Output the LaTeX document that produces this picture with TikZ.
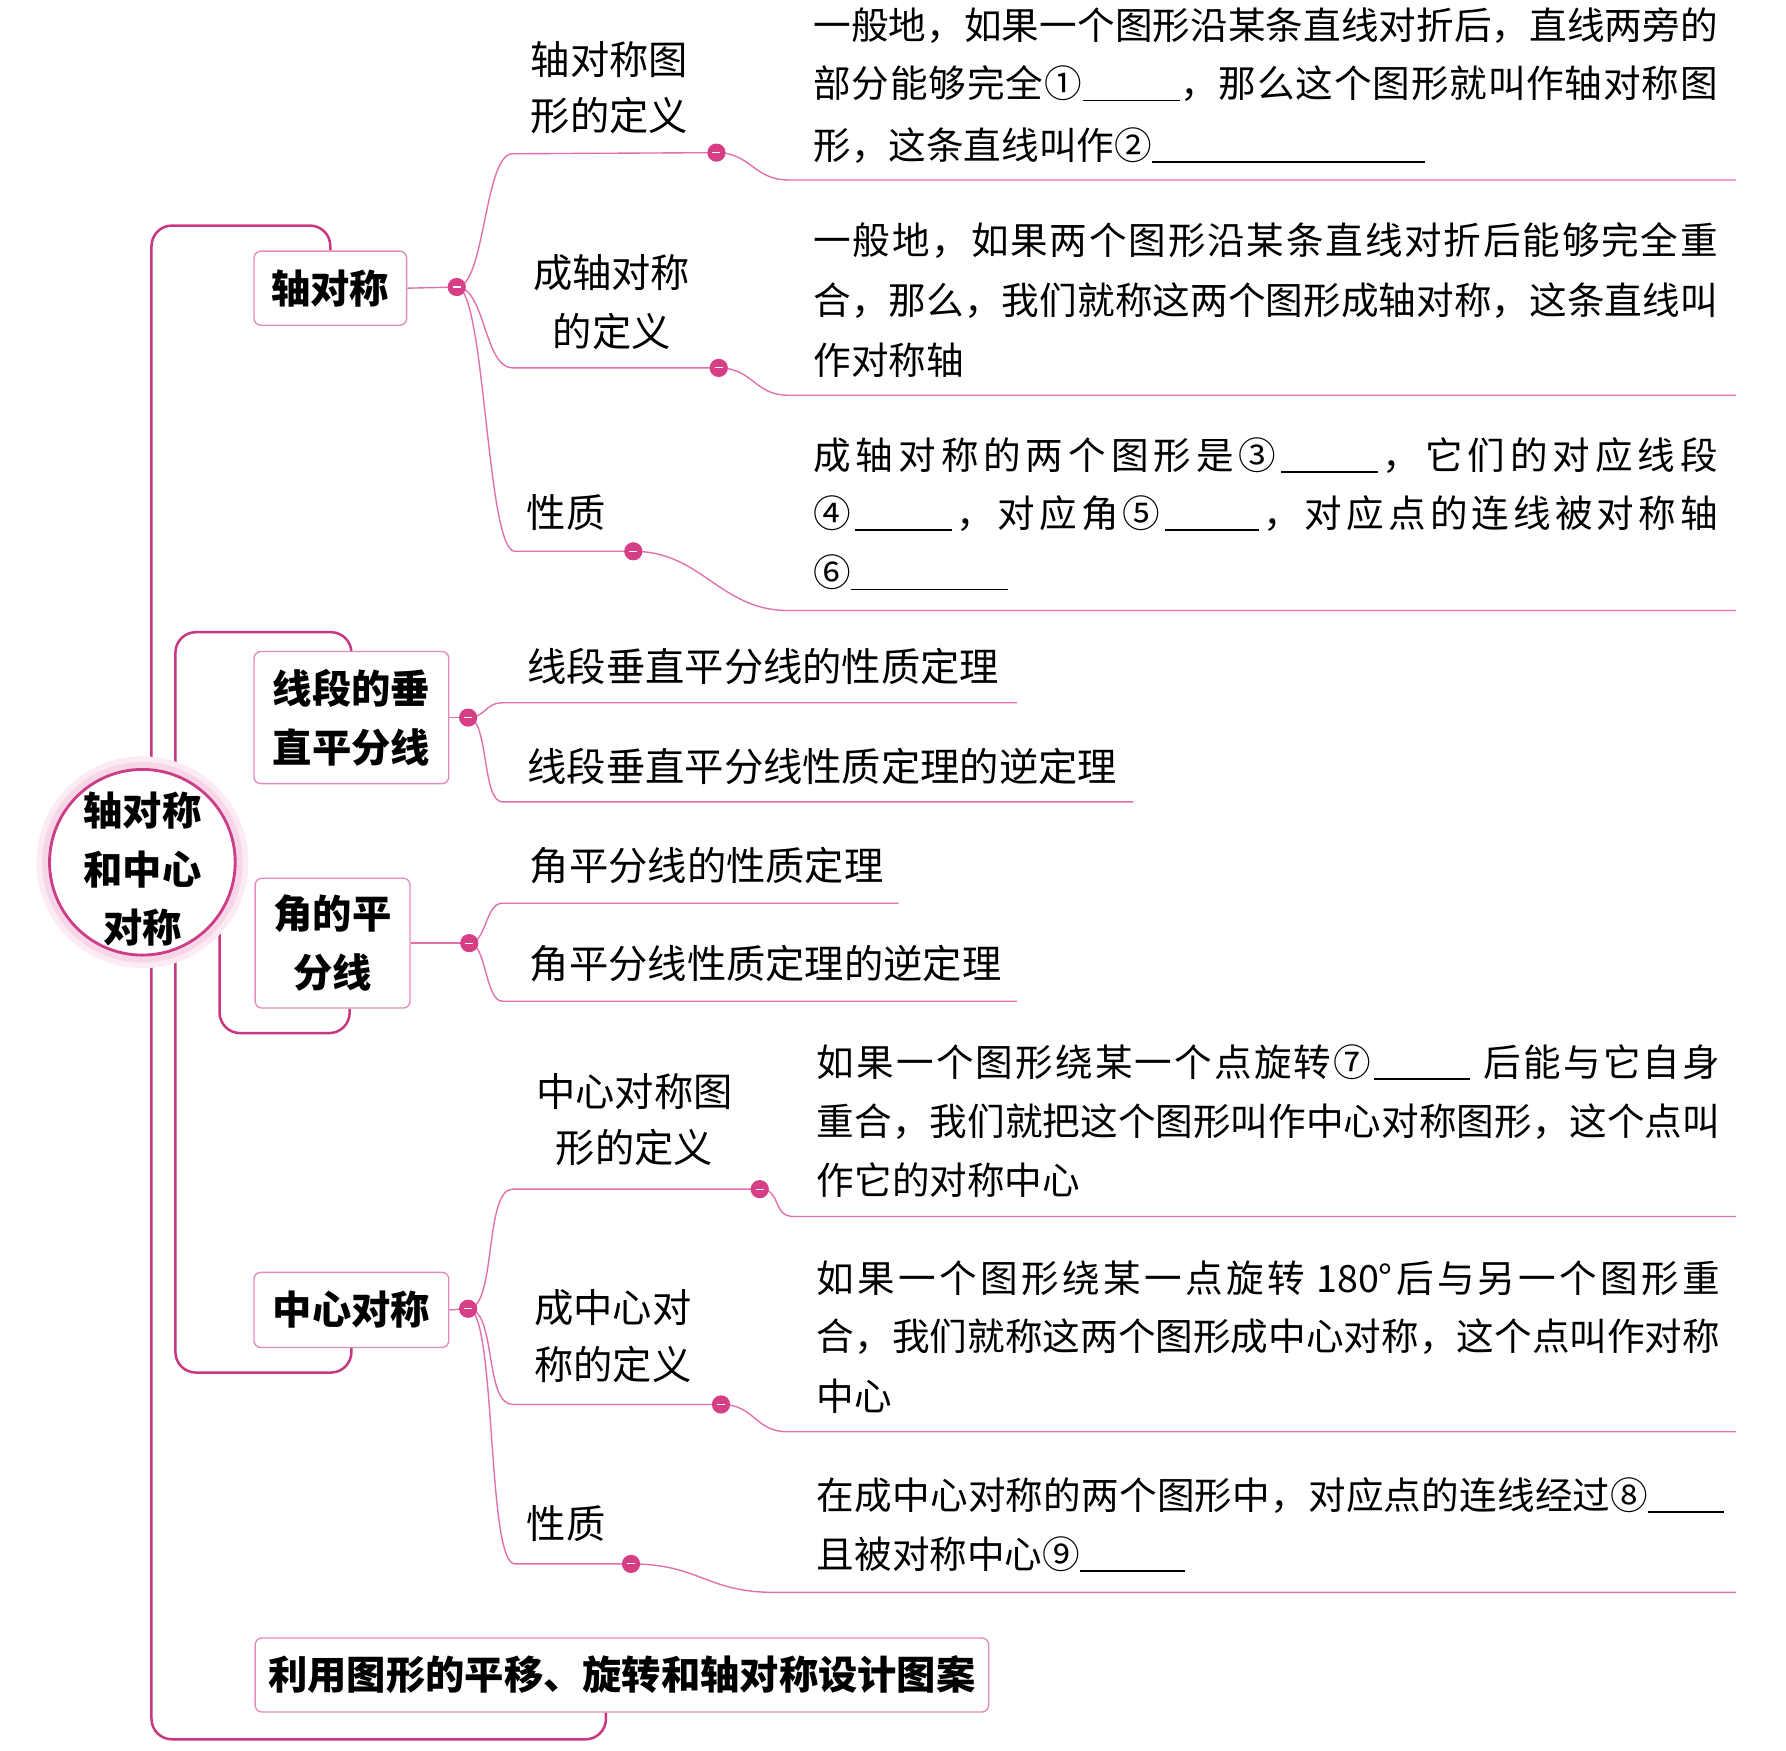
\documentclass[tikz,border=0pt]{standalone}
\usepackage{fontspec}
\setmainfont{Noto Sans CJK SC}
\definecolor{mainc}{RGB}{200,55,130}
\definecolor{branchc}{RGB}{226,110,170}
\definecolor{boxc}{RGB}{226,140,186}
\definecolor{dotc}{RGB}{214,62,134}
\definecolor{ringc}{RGB}{205,62,136}
\definecolor{haloa}{RGB}{252,234,244}
\definecolor{halob}{RGB}{247,214,232}
\pgfdeclarelayer{bg}
\pgfdeclarelayer{halo}
\pgfsetlayers{bg,halo,main}
\newcommand{\blank}[1]{\rule[-3pt]{#1pt}{1.3pt}}
\newcommand{\cm}{\makebox[1em][l]{，}}
\makeatletter
\def\jl@end{jl@end@marker}
\def\jl#1#2{\makebox[#1pt][s]{\jl@first#2\jl@end}}
\def\jl@first#1{#1\jl@loop}
\def\jl@loop#1{\ifx\jl@end#1\else\hfil#1\expandafter\jl@loop\fi}
\makeatother
\tikzset{
  mainline/.style={draw=mainc, line width=2.2pt, rounded corners=18pt},
  branch/.style={draw=branchc, line width=1.2pt},
  topic/.style={draw=boxc, line width=1.2pt, fill=white, rounded corners=6pt, inner sep=0pt, align=center, font=\bfseries\fontsize{34.5}{52}\selectfont},
  knob/.style={circle, fill=dotc, draw=none, minimum size=16pt, inner sep=0pt,
    path picture={\draw[white, line width=1pt] ([xshift=-3.5pt]path picture bounding box.center) -- ([xshift=3.5pt]path picture bounding box.center);}},
  bodyline/.style={anchor=base west, inner sep=0pt, font=\fontsize{33}{40}\selectfont},
  subline/.style={anchor=base west, inner sep=0pt, font=\fontsize{34.5}{40}\selectfont},
  subl/.style={anchor=base, inner sep=0pt, font=\fontsize{34.5}{40}\selectfont},
}
\begin{document}
\begin{tikzpicture}[x=1pt,y=-1pt]
\useasboundingbox (0,0) rectangle (1568,1537);
\begin{pgfonlayer}{bg}
  \fill[white] (0,0) rectangle (1568,1537);
\end{pgfonlayer}

% root
\node[circle, draw=ringc, line width=2.5pt, fill=white, minimum size=163pt, inner sep=0pt] (root) at (125,757) {};
\node[font=\bfseries\fontsize{34.5}{51}\selectfont, align=center, inner sep=0pt] (roottxt) at (125,763) {轴对称\\和中心\\对称};
\begin{pgfonlayer}{halo}
  \fill[haloa] (root.center) circle (93pt);
  \fill[halob] (root.center) circle (88pt);
\end{pgfonlayer}

% level-1 topics
\node[topic, minimum width=134pt, minimum height=65pt] (b1) at (290,253) {轴对称};
\node[topic, minimum width=171pt, minimum height=116pt] (b2) at (308.5,630) {线段的垂\\直平分线};
\node[topic, minimum width=136pt, minimum height=114pt] (b3) at (292,828) {角的平\\分线};
\node[topic, minimum width=171pt, minimum height=66pt] (b4) at (308.5,1150) {中心对称};
\node[topic, minimum width=644pt, minimum height=65pt] (b5) at (546,1470.5) {利用图形的平移、旋转和轴对称设计图案};

% knobs
\node[knob] (d1) at (401,252) {};
\node[knob] (d2) at (411,630) {};
\node[knob] (d3) at (412,828) {};
\node[knob] (d4) at (411,1149) {};
\node[knob] (e1) at (629,134) {};
\node[knob] (e2) at (631,323) {};
\node[knob] (e3) at (556,484) {};
\node[knob] (e4) at (667,1044) {};
\node[knob] (e5) at (633,1233) {};
\node[knob] (e6) at (554,1373) {};

% free ends
\coordinate (z1) at (1524,158);
\coordinate (z2) at (1524,347);
\coordinate (z3) at (1524,536);
\coordinate (z4) at (1524,1068);
\coordinate (z5) at (1524,1257);
\coordinate (z6) at (1524,1398);
\coordinate (u1) at (893,617);
\coordinate (u2) at (995,704);
\coordinate (u3) at (789,793);
\coordinate (u4) at (893,879);

\begin{pgfonlayer}{bg}
  % buses
  \draw[mainline] (b1.north) |- (133,198) |- (532,1527) -- ([xshift=-14pt]b5.south);
  \draw[mainline] (b2.north) |- (154,555) |- (308.5,1205) -- (b4.south);
  \draw[mainline] (root.-35) |- (307,907) -- ([xshift=15pt]b3.south);
  % topic to knob
  \draw[branch] (b1.east) -- (d1.center);
  \draw[branch] (b2.east) -- (d2.center);
  \draw[branch] (b3.east) -- (d3.center);
  \draw[branch] (b4.east) -- (d4.center);
  % axis symmetry
  \draw[branch] (d1.center) .. controls +(25,0) and +(-25,0) .. (450,135) -- (e1.center);
  \draw[branch] (d1.center) .. controls +(25,0) and +(-25,0) .. (450,323) -- (e2.center);
  \draw[branch] (d1.center) .. controls +(25,0) and +(-25,0) .. (452,484) -- (e3.center);
  \draw[branch] (e1.center) .. controls +(30,0) and +(-30,0) .. (692,158) -- (z1);
  \draw[branch] (e2.center) .. controls +(30,0) and +(-30,0) .. (692,347) -- (z2);
  \draw[branch] (e3.center) .. controls +(60,0) and +(-60,0) .. (692,536) -- (z3);
  % perpendicular bisector
  \draw[branch] (d2.center) .. controls +(15,0) and +(-15,0) .. (441,617) -- (u1);
  \draw[branch] (d2.center) .. controls +(18,0) and +(-18,0) .. (441,704) -- (u2);
  % angle bisector
  \draw[branch] (d3.center) .. controls +(15,0) and +(-15,0) .. (441,793) -- (u3);
  \draw[branch] (d3.center) .. controls +(15,0) and +(-15,0) .. (441,879) -- (u4);
  % central symmetry
  \draw[branch] (d4.center) .. controls +(25,0) and +(-25,0) .. (450,1044) -- (e4.center);
  \draw[branch] (d4.center) .. controls +(25,0) and +(-25,0) .. (450,1233) -- (e5.center);
  \draw[branch] (d4.center) .. controls +(25,0) and +(-25,0) .. (452,1373) -- (e6.center);
  \draw[branch] (e4.center) .. controls +(20,0) and +(-20,0) .. (697,1068) -- (z4);
  \draw[branch] (e5.center) .. controls +(30,0) and +(-30,0) .. (692,1257) -- (z5);
  \draw[branch] (e6.center) .. controls +(60,0) and +(-60,0) .. (680,1398) -- (z6);
\end{pgfonlayer}

% level-2 labels
\node[subl] (l1a) at (535,65) {轴对称图};
\node[subl] (l1b) at (535,115) {形的定义};
\node[subl] (l2a) at (537,252) {成轴对称};
\node[subl] (l2b) at (537,304) {的定义};
\node[subl] (l3) at (497,463) {性质};
\node[subl] (l4a) at (557,971) {中心对称图};
\node[subl] (l4b) at (557,1021) {形的定义};
\node[subl] (l5a) at (538,1161) {成中心对};
\node[subl] (l5b) at (538,1211) {称的定义};
\node[subl] (l6) at (497,1351) {性质};

\node[subline] (s1) at (463,598) {线段垂直平分线的性质定理};
\node[subline] (s2) at (463,686) {线段垂直平分线性质定理的逆定理};
\node[subline] (s3) at (465,773) {角平分线的性质定理};
\node[subline] (s4) at (465,859) {角平分线性质定理的逆定理};

% body texts
\node[bodyline] (t1a) at (714,35) {\jl{794}{一般地\cm 如果一个图形沿某条直线对折后\cm 直线两旁的}};
\node[bodyline] (t1b) at (714,86) {\jl{794}{部分能够完全①{\blank{85}}\cm 那么这个图形就叫作轴对称图}};
\node[bodyline] (t1c) at (714,140) {形\cm 这条直线叫作②\blank{240}};

\node[bodyline] (t2a) at (714,223) {\jl{794}{一般地\cm 如果两个图形沿某条直线对折后能够完全重}};
\node[bodyline] (t2b) at (714,276) {\jl{794}{合\cm 那么\cm 我们就称这两个图形成轴对称\cm 这条直线叫}};
\node[bodyline] (t2c) at (714,329) {作对称轴};

\node[bodyline] (t3a) at (714,412) {\jl{794}{成轴对称的两个图形是③{\blank{85}}\cm 它们的对应线段}};
\node[bodyline] (t3b) at (714,463) {\jl{794}{④{\blank{85}}\cm 对应角⑤{\blank{83}}\cm 对应点的连线被对称轴}};
\node[bodyline] (t3c) at (714,515) {⑥\blank{138}};

\node[bodyline] (t4a) at (717,945) {\jl{793}{如果一个图形绕某一个点旋转⑦{\blank{85}}{\hspace{8pt}}后能与它自身}};
\node[bodyline] (t4b) at (717,997) {\jl{793}{重合\cm 我们就把这个图形叫作中心对称图形\cm 这个点叫}};
\node[bodyline] (t4c) at (717,1049) {作它的对称中心};

\node[bodyline] (t5a) at (717,1135) {\jl{793}{如果一个图形绕某一点旋转{\ 180°}后与另一个图形重}};
\node[bodyline] (t5b) at (717,1186) {\jl{793}{合\cm 我们就称这两个图形成中心对称\cm 这个点叫作对称}};
\node[bodyline] (t5c) at (717,1238) {中心};

\node[bodyline] (t6a) at (717,1325) {\jl{796}{在成中心对称的两个图形中\cm 对应点的连线经过⑧{\blank{66}}}};
\node[bodyline] (t6b) at (717,1377) {且被对称中心⑨\blank{92}};
\end{tikzpicture}
\end{document}
